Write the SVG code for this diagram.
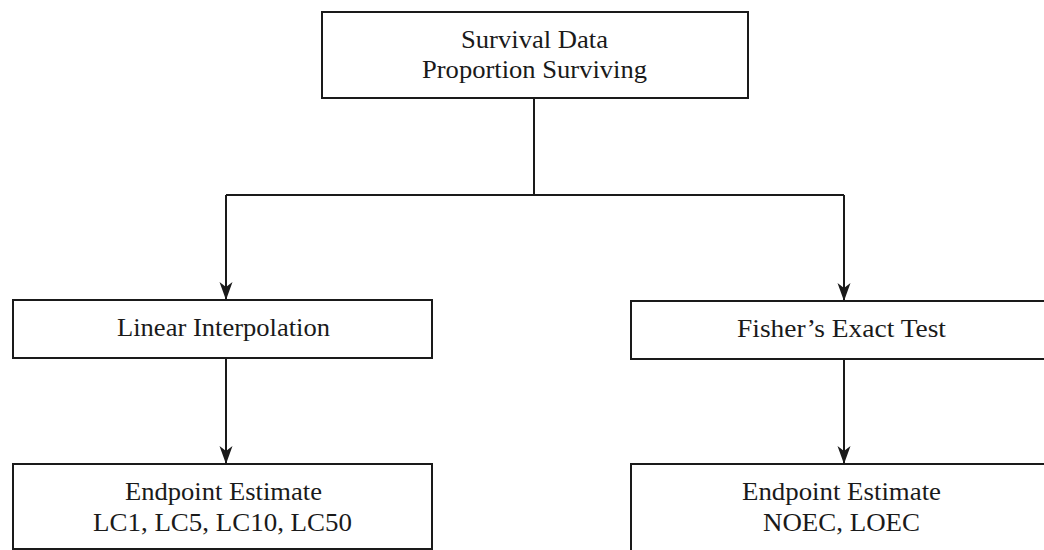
<svg xmlns="http://www.w3.org/2000/svg" width="1044" height="550" viewBox="0 0 1044 550">
  <style>
    .box { fill: #ffffff; stroke: #1a1a1a; stroke-width: 2; }
    .link { fill: none; stroke: #1a1a1a; stroke-width: 2; }
    .label { font-family: "Liberation Serif", "Times New Roman", serif; font-size: 26px; fill: #1a1a1a; text-anchor: middle; }
  </style>
  <defs>
    <!-- arrowhead drawn along +x so orient="auto" points it down the line -->
    <marker id="arrow" viewBox="0 0 18 14" refX="17" refY="7" markerWidth="18" markerHeight="14" markerUnits="userSpaceOnUse" orient="auto">
      <path d="M18 7 L0 0.5 L5 7 L0 13.5 Z" fill="#1a1a1a"/>
    </marker>
  </defs>
  <rect width="1044" height="550" fill="#ffffff"/>

  <g id="connectors">
    <path class="link" d="M534 98 V195"/>
    <path class="link" d="M226 195 H844"/>
    <path class="link" d="M226 195 V299" marker-end="url(#arrow)"/>
    <path class="link" d="M844 195 V300" marker-end="url(#arrow)"/>
    <path class="link" d="M226 358 V463" marker-end="url(#arrow)"/>
    <path class="link" d="M844 359 V463" marker-end="url(#arrow)"/>
  </g>

  <g id="survival-data">
    <rect class="box" x="322" y="12" width="426" height="86"/>
    <text class="label" x="534.5" y="48" textLength="147" lengthAdjust="spacingAndGlyphs">Survival Data</text>
    <text class="label" x="534.5" y="78" textLength="225" lengthAdjust="spacingAndGlyphs">Proportion Surviving</text>
  </g>

  <g id="linear-interpolation">
    <rect class="box" x="13" y="300" width="419" height="58"/>
    <text class="label" x="223.5" y="336" textLength="213" lengthAdjust="spacingAndGlyphs">Linear Interpolation</text>
  </g>

  <g id="fishers-exact-test">
    <rect class="box" x="631" y="301" width="430" height="58"/>
    <text class="label" x="841.5" y="337" textLength="209" lengthAdjust="spacingAndGlyphs">Fisher’s Exact Test</text>
  </g>

  <g id="endpoint-lc">
    <rect class="box" x="13" y="464" width="419" height="85"/>
    <text class="label" x="223.5" y="500" textLength="197" lengthAdjust="spacingAndGlyphs">Endpoint Estimate</text>
    <text class="label" x="222.5" y="531" textLength="259" lengthAdjust="spacingAndGlyphs">LC1, LC5, LC10, LC50</text>
  </g>

  <g id="endpoint-noec">
    <rect class="box" x="631" y="464" width="430" height="92"/>
    <text class="label" x="841.5" y="500" textLength="199" lengthAdjust="spacingAndGlyphs">Endpoint Estimate</text>
    <text class="label" x="841.5" y="531" textLength="157" lengthAdjust="spacingAndGlyphs">NOEC, LOEC</text>
  </g>
</svg>
